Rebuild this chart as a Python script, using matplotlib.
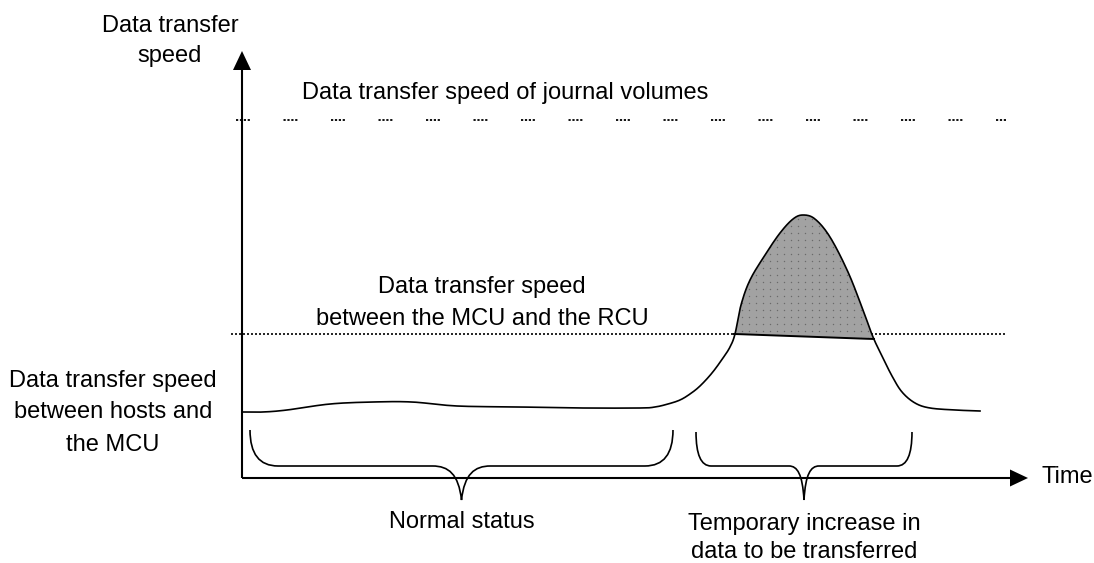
import numpy as np
import matplotlib
matplotlib.use("Agg")
import matplotlib.pyplot as plt
from matplotlib.path import Path
from matplotlib.patches import PathPatch, Polygon

plt.rcParams["font.family"] = ["Liberation Sans", "DejaVu Sans"]
plt.rcParams["lines.scale_dashes"] = False

# ---- data (canvas units, y grows downward) ----
host_time = [242, 263, 287, 330, 373, 412, 457, 520, 583, 640, 655, 668, 680,
             690, 700, 712, 723, 730, 735, 741, 750, 765, 780, 793, 803, 815,
             830, 848, 863, 873, 882, 892, 902, 915, 930, 955, 980]
host_speed = [412, 412, 410, 404, 402, 402, 406, 407, 408, 408, 407, 404, 400,
              394, 386, 373, 358, 347, 334, 305, 280, 255, 233, 219, 215, 219,
              237, 272, 310, 337, 356, 376, 392, 403, 408, 410, 411]
journal_level = 120
rcu_level = 334
excess_base_x = [735, 873]
excess_base_y = [334, 339]

# braces: (left, right, top, corner width, cusp half-width)
brace_spans = [(250, 673, 430, 28, 29), (696, 912, 432, 15, 15)]
brace_labels = [["Normal status"], ["Temporary increase in", "data to be transferred"]]
brace_label_baselines = [[528], [530, 558]]

origin = (242, 478)
y_axis_top = 51
x_axis_end = 1028

FS = 17
W, H = 1094, 563

fig = plt.figure(figsize=(W / 100, H / 100), dpi=100)
ax = fig.add_axes([0, 0, 1, 1])
ax.set_xlim(0, W)
ax.set_ylim(H, 0)
ax.axis("off")


def catmull_rom(x, y, n=10):
    P = np.column_stack([x, y]).astype(float)
    P = np.vstack([P[0], P, P[-1]])
    out = []
    t = np.linspace(0, 1, n, endpoint=False)[:, None]
    for i in range(1, len(P) - 2):
        p0, p1, p2, p3 = P[i - 1], P[i], P[i + 1], P[i + 2]
        seg = 0.5 * ((2 * p1) + (-p0 + p2) * t
                     + (2 * p0 - 5 * p1 + 4 * p2 - p3) * t ** 2
                     + (-p0 + 3 * p1 - 3 * p2 + p3) * t ** 3)
        out.append(seg)
    out.append(P[-2][None])
    return np.vstack(out)


# ---- axes with arrowheads ----
ox, oy = origin
ax.plot([ox, ox], [oy, y_axis_top + 15], color="black", lw=1.5, solid_capstyle="butt")
ax.plot([ox, x_axis_end - 15], [oy, oy], color="black", lw=1.5, solid_capstyle="butt")
ax.add_patch(Polygon([(ox, y_axis_top), (ox - 9, y_axis_top + 19), (ox + 9, y_axis_top + 19)],
                     closed=True, color="black", lw=0))
ax.add_patch(Polygon([(x_axis_end, oy), (x_axis_end - 18, oy - 8.5), (x_axis_end - 18, oy + 8.5)],
                     closed=True, color="black", lw=0))

# ---- reference levels ----
px = 0.72
ax.plot([236, 1007], [journal_level, journal_level], color="black", lw=1.3,
        dashes=[2.2 * px, 1.7 * px, 2.2 * px, 1.7 * px, 2.2 * px, 1.7 * px, 2.2 * px, 33.6 * px])
ax.plot([231, 1005], [rcu_level, rcu_level], color="black", lw=1.2,
        dashes=[2 * px, 2 * px])

# ---- host transfer speed curve ----
curve = catmull_rom(host_time, host_speed)
sx, sy = curve[:, 0], curve[:, 1]
base = np.interp(sx, excess_base_x, excess_base_y)
above = sy <= base
fill = ax.fill_between(sx, sy, base, where=above, interpolate=True,
                       facecolor="#a2a2a2", edgecolor="none", zorder=2)
# dotted texture inside the excess area
gx, gy = np.meshgrid(np.arange(700, 900, 7.0), np.arange(205, 345, 7.0))
dots = ax.scatter(gx.ravel(), gy.ravel(), s=1.0, color="#6a6a6a", lw=0, zorder=3)
dots.set_clip_path(fill.get_paths()[0], transform=ax.transData)
idx = np.where(above)[0]
bx = np.linspace(sx[idx[0]] - 1, sx[idx[-1]] + 1, 20)
ax.plot(bx, np.interp(bx, excess_base_x, excess_base_y), color="black", lw=1.4, zorder=4)
ax.plot(sx, sy, color="black", lw=1.2, zorder=4)

# ---- braces ----
for (x0, x1, top, cw, hw) in brace_spans:
    c = (x0 + x1) / 2
    hy, tip = 466, 500
    verts = [(x0, top), (x0, hy), (x0 + cw, hy),
             (c - hw, hy),
             (c - hw * 0.45, hy), (c - hw * 0.1, hy + 8), (c, tip),
             (c + hw * 0.1, hy + 8), (c + hw * 0.45, hy), (c + hw, hy),
             (x1 - cw, hy),
             (x1, hy), (x1, top)]
    codes = [Path.MOVETO, Path.CURVE3, Path.CURVE3,
             Path.LINETO,
             Path.CURVE4, Path.CURVE4, Path.CURVE4,
             Path.CURVE4, Path.CURVE4, Path.CURVE4,
             Path.LINETO,
             Path.CURVE3, Path.CURVE3]
    ax.add_patch(PathPatch(Path(verts, codes), facecolor="none", edgecolor="black", lw=1.2))

for (x0, x1, *_), lines, bases in zip(brace_spans, brace_labels, brace_label_baselines):
    for line, b in zip(lines, bases):
        ax.text((x0 + x1) / 2, b, line, ha="center", va="baseline", fontsize=FS)

# ---- text labels ----
ax.text(170, 32, "Data transfer", ha="center", va="baseline", fontsize=FS)
ax.text(170, 62, "speed", ha="center", va="baseline", fontsize=FS)
ax.text(302, 99, "Data transfer speed of journal volumes", ha="left", va="baseline", fontsize=FS)
ax.text(482, 293, "Data transfer speed", ha="center", va="baseline", fontsize=FS)
ax.text(482, 325, "between the MCU and the RCU", ha="center", va="baseline", fontsize=FS)
for line, b in zip(["Data transfer speed", "between hosts and", "the MCU"], [387, 418, 451]):
    ax.text(113, b, line, ha="center", va="baseline", fontsize=FS)
ax.text(1042, 483, "Time", ha="left", va="baseline", fontsize=FS)

fig.savefig("out.png", dpi=100)
